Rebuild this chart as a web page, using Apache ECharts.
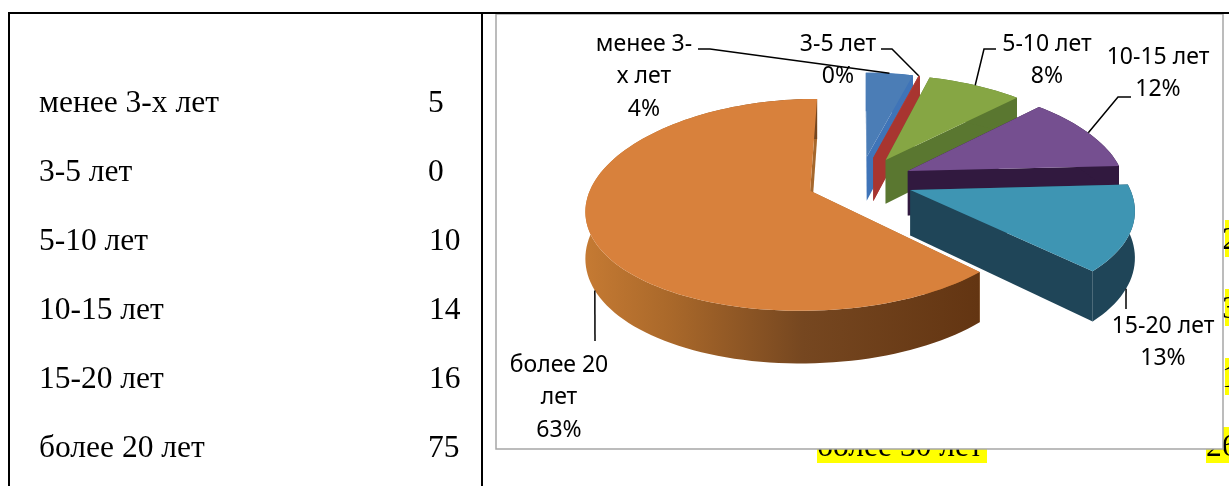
<!DOCTYPE html>
<html>
<head>
<meta charset="utf-8">
<title>Стаж</title>
<script src="https://cdn.jsdelivr.net/npm/echarts@6/dist/echarts.min.js"></script>
<style>
html,body{margin:0;padding:0;background:#fff}
#main{width:1229px;height:486px}
</style>
</head>
<body>
<div id="main"></div>
<script>
// данные
var categories = ['менее 3-х лет', '3-5 лет', '5-10 лет', '10-15 лет', '15-20 лет', 'более 20 лет'];
var values = [5, 0, 10, 14, 16, 75];
var labelLines = [['менее 3-', 'х лет'], ['3-5 лет'], ['5-10 лет'], ['10-15 лет'], ['15-20 лет'], ['более 20', 'лет']];
var topColors = ['#4b7db6', '#b23c36', '#86a644', '#754f90', '#3e95b3', '#d8813c'];
var wallColors = ['#3f74b8', '#a83530', '#5a7730', '#31193f', '#1f4558', '#a5672c'];
var hiddenRowLabels = ['более 30 лет'];
var hiddenRowValues = ['2', '3', '1', '26'];

// геометрия псевдо-3D
var CX = 860, CY = 181, RX = 217, RY = 101.5;
var EXPLODE = 0.245, DEPTH = 45, KX = 0.16, KY = 0.1325;
var ZERO_SPAN = 0.4;

var total = 0;
for (var t = 0; t < values.length; t++) { total += values[t]; }

var slices = [];
var acc = 0;
for (var i = 0; i < values.length; i++) {
	var a0 = acc / total * 360;
	acc += values[i];
	var a1 = acc / total * 360;
	slices.push({ start: a0, end: a1, mid: (a0 + a1) / 2 });
}

/** --------平面 -> 屏幕 ------ */
function project(u, v, down) {
	var y = CY + RY * v / (1 - KY * v);
	if (down) {
		y += DEPTH / (1 - KY * v);
	}
	return [CX + RX * u / (1 - KX * v), y];
}

function rimPoint(s, deg, down) {
	var r = deg * Math.PI / 180, m = s.mid * Math.PI / 180;
	return project(EXPLODE * Math.sin(m) + Math.sin(r), -EXPLODE * Math.cos(m) - Math.cos(r), down);
}

function apexPoint(s, down) {
	var m = s.mid * Math.PI / 180;
	return project(EXPLODE * Math.sin(m), -EXPLODE * Math.cos(m), down);
}

function arc(s, from, to, down) {
	var pts = [];
	var n = Math.max(2, Math.ceil(Math.abs(to - from) / 2));
	for (var j = 0; j <= n; j++) {
		pts.push(rimPoint(s, from + (to - from) * j / n, down));
	}
	return pts;
}

function poly(points, fill) {
	return { type: 'polygon', shape: { points: points }, style: { fill: fill } };
}

var outerGradient = new echarts.graphic.LinearGradient(0, 0, 1, 0, [
	{ offset: 0, color: '#c57a33' },
	{ offset: 0.22, color: '#a9682a' },
	{ offset: 0.55, color: '#764720' },
	{ offset: 1, color: '#633512' }
]);

function renderSlice(params, api) {
	var idx = params.dataIndex;
	var s = slices[idx];
	var end = api.value(0) === 0 ? s.end + ZERO_SPAN : s.end;
	var wall = wallColors[idx];
	var children = [];
	// радиальные стенки
	children.push(poly([apexPoint(s), rimPoint(s, s.start), rimPoint(s, s.start, true), apexPoint(s, true)], wall));
	children.push(poly([apexPoint(s), rimPoint(s, end), rimPoint(s, end, true), apexPoint(s, true)], wall));
	// внешняя стенка
	var top = arc(s, s.start, end, false);
	var bottom = arc(s, s.start, end, true).reverse();
	children.push(poly(top.concat(bottom), idx === 5 ? outerGradient : wall));
	// верх
	children.push(poly([apexPoint(s)].concat(top), topColors[idx]));
	return { type: 'group', children: children };
}

// линии-выноски: излом задан у подписи, конец считается от сектора
var leaderStarts = [
	[[698, 49], [710, 49]],
	[[881, 49], [892, 49]],
	[[996, 49], [984, 49]],
	[[1131, 97], [1118, 97]],
	[[1126, 309]],
	[[595, 341]]
];
var leaderDown = [false, false, false, false, true, true];
var leaderNudge = [0, 0, 0, 0, 6, -5];
var labelCenters = [[644, 44], [838, 44], [1047, 44], [1158, 57], [1163, 326], [559, 365]];

function renderLabels(params, api) {
	var idx = params.dataIndex;
	var s = slices[idx];
	var pct = Math.round(api.value(0) / total * 100 + 1e-9) + '%';
	var children = [];
	var anchor = rimPoint(s, s.mid + leaderNudge[idx], leaderDown[idx]);
	children.push({
		type: 'polyline',
		shape: { points: leaderStarts[idx].concat([anchor]) },
		style: { stroke: '#000', lineWidth: 1.5, fill: null }
	});
	var lines = labelLines[idx].concat([pct]);
	for (var j = 0; j < lines.length; j++) {
		children.push({
			type: 'text',
			style: {
				x: labelCenters[idx][0],
				y: labelCenters[idx][1] + j * 32.5,
				text: lines[j],
				align: 'center',
				verticalAlign: 'middle',
				fontFamily: 'Noto Sans',
				fontSize: 23,
				fill: '#000'
			}
		});
	}
	return { type: 'group', children: children };
}

/** --------таблица за диаграммой ------ */
function tableGraphics() {
	var els = [];
	function line(x1, y1, x2, y2) {
		els.push({ type: 'line', shape: { x1: x1, y1: y1, x2: x2, y2: y2 }, style: { stroke: '#000', lineWidth: 2 }, z: 4 });
	}
	function txt(x, y, s) {
		els.push({ type: 'text', x: x, y: y, style: { text: s, fontFamily: 'Liberation Serif', fontSize: 31.5, fill: '#000', align: 'left', verticalAlign: 'middle' }, z: 2 });
	}
	function yellow(x, y, w, h) {
		els.push({ type: 'rect', shape: { x: x, y: y, width: w, height: h }, style: { fill: '#ffff00' }, z: 1 });
	}
	line(8, 13, 1229, 13);
	line(9, 13, 9, 486);
	line(482, 13, 482, 486);
	var valX = [428, 428, 429, 429, 429, 428];
	for (var r = 0; r < categories.length; r++) {
		txt(39, 103.5 + r * 69, categories[r]);
		txt(valX[r], 103.5 + r * 69, String(values[r]));
	}
	// строки, закрытые диаграммой
	yellow(1225, 220, 4, 37);
	yellow(1225, 289, 4, 37);
	yellow(1225, 358, 4, 37);
	yellow(1206, 427, 23, 36);
	yellow(817, 449, 170, 14);
	txt(1222, 241, hiddenRowValues[0]);
	txt(1222, 310, hiddenRowValues[1]);
	txt(1222, 379, hiddenRowValues[2]);
	txt(1206, 448, hiddenRowValues[3]);
	txt(817, 448, hiddenRowLabels[0]);
	// рамка диаграммы
	els.push({ type: 'rect', shape: { x: 496, y: 14, width: 727, height: 435 }, style: { fill: '#fff', stroke: '#a6a6a6', lineWidth: 1.5 }, z: 3 });
	return els;
}

var chart = echarts.init(document.getElementById('main'), null, { renderer: 'canvas' });
chart.setOption({
	animation: false,
	backgroundColor: '#fff',
	graphic: { elements: tableGraphics() },
	series: [
		{ type: 'custom', coordinateSystem: 'none', data: values, renderItem: renderSlice, z: 10, silent: true },
		{ type: 'custom', coordinateSystem: 'none', data: values, renderItem: renderLabels, z: 11, silent: true }
	]
});
</script>
</body>
</html>
